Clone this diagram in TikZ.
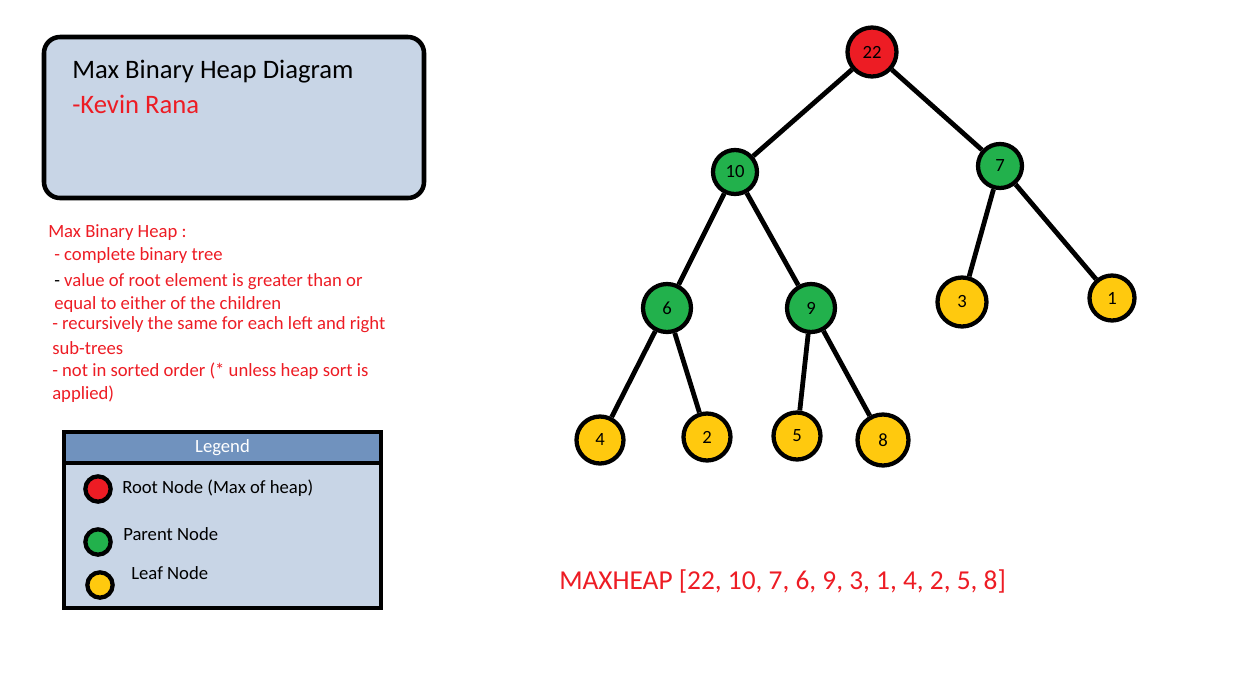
\documentclass[tikz,border=0pt]{standalone}
\usepackage{fontspec}
\setmainfont{Carlito}
\usepackage{tikz}
\usetikzlibrary{positioning}

\definecolor{heapred}{HTML}{ED1C24}
\definecolor{heapgreen}{HTML}{22B14C}
\definecolor{heapyellow}{HTML}{FFC90E}
\definecolor{boxblue}{HTML}{C8D5E6}
\definecolor{headblue}{HTML}{7092BE}

\tikzset{
  heap node/.style={circle, draw=black, line width=3.2pt, inner sep=0pt,
    font=\fontsize{14}{16}\selectfont},
  legend node/.style={circle, draw=black, line width=3.2pt, inner sep=0pt,
    minimum size=19pt},
  edge/.style={draw=black, line width=3.6pt},
  note/.style={anchor=west, inner sep=0pt, text=heapred,
    font=\fontsize{14}{16}\selectfont},
  legend text/.style={anchor=west, inner sep=0pt,
    font=\fontsize{14}{16}\selectfont}
}

\begin{document}
\begin{tikzpicture}[x=0.75pt, y=-0.75pt]

\useasboundingbox (0,0) rectangle (1258,672);

% title box
\draw [line width=3.4pt, fill=boxblue, rounded corners=12pt]
  (44,37) rectangle (424,198);
\node [anchor=west, inner sep=0pt, font=\fontsize{20}{22}\selectfont]
  (title) at (72,72) {Max Binary Heap Diagram};
\node [anchor=west, inner sep=0pt, text=heapred, font=\fontsize{20}{22}\selectfont]
  (author) at (72,104) {-Kevin Rana};

% notes
\foreach \t/\x/\y [count=\i] in {
    {Max Binary Heap :}/48/233,
    {- complete binary tree}/54/256,
    {{\color{black}-} value of root element is greater than or}/54/282,
    {equal to either of the children}/54/305,
    {- recursively the same for each left and right}/52/325,
    {sub-trees}/52/348,
    {- not in sorted order (* unless heap sort is}/52/371,
    {applied)}/52/394}
  \node [note] (note-\i) at (\x,\y) {\t};

% legend
\draw [line width=3.4pt, fill=boxblue] (64,432) rectangle (381,608);
\draw [line width=3.4pt, fill=headblue] (64,432) rectangle (381,463);
\node [text=white, font=\fontsize{14}{16}\selectfont] (legend) at (222.5,448) {Legend};

\foreach \n/\c/\x/\y/\t/\lx/\ly in {
    root/heapred/98/489/{Root Node (Max of heap)}/122/488,
    parent/heapgreen/98/542/{Parent Node}/123/534,
    leaf/heapyellow/100/585/{Leaf Node}/131/573}
{
  \node [legend node, fill=\c] (legend-\n) at (\x,\y) {};
  \node [legend text] (legend-\n-text) at (\lx,\ly) {\t};
}

% heap
\foreach \v/\c/\x/\y/\s in {
    22/heapred/872/52/49,
    10/heapgreen/735/172/44,
    7/heapgreen/1000/166/44,
    6/heapgreen/667/308/48,
    9/heapgreen/811/308/48,
    3/heapyellow/962/302/49,
    1/heapyellow/1112/298/45,
    4/heapyellow/600/440/47,
    2/heapyellow/707/437/47,
    5/heapyellow/797/436/47,
    8/heapyellow/883/440/51}
  \node [heap node, fill=\c, minimum size=\s*0.75pt] (heap-\v) at (\x,\y) {\v};

\foreach \a/\b in {22/10, 22/7, 10/6, 10/9, 7/3, 7/1, 6/4, 6/2, 9/5, 9/8}
  \draw [edge] (heap-\a) -- (heap-\b);

\node [anchor=west, inner sep=0pt, text=heapred, font=\fontsize{20.5}{23}\selectfont]
  (array) at (559,581) {MAXHEAP [22, 10, 7, 6, 9, 3, 1, 4, 2, 5, 8]};

\end{tikzpicture}
\end{document}
